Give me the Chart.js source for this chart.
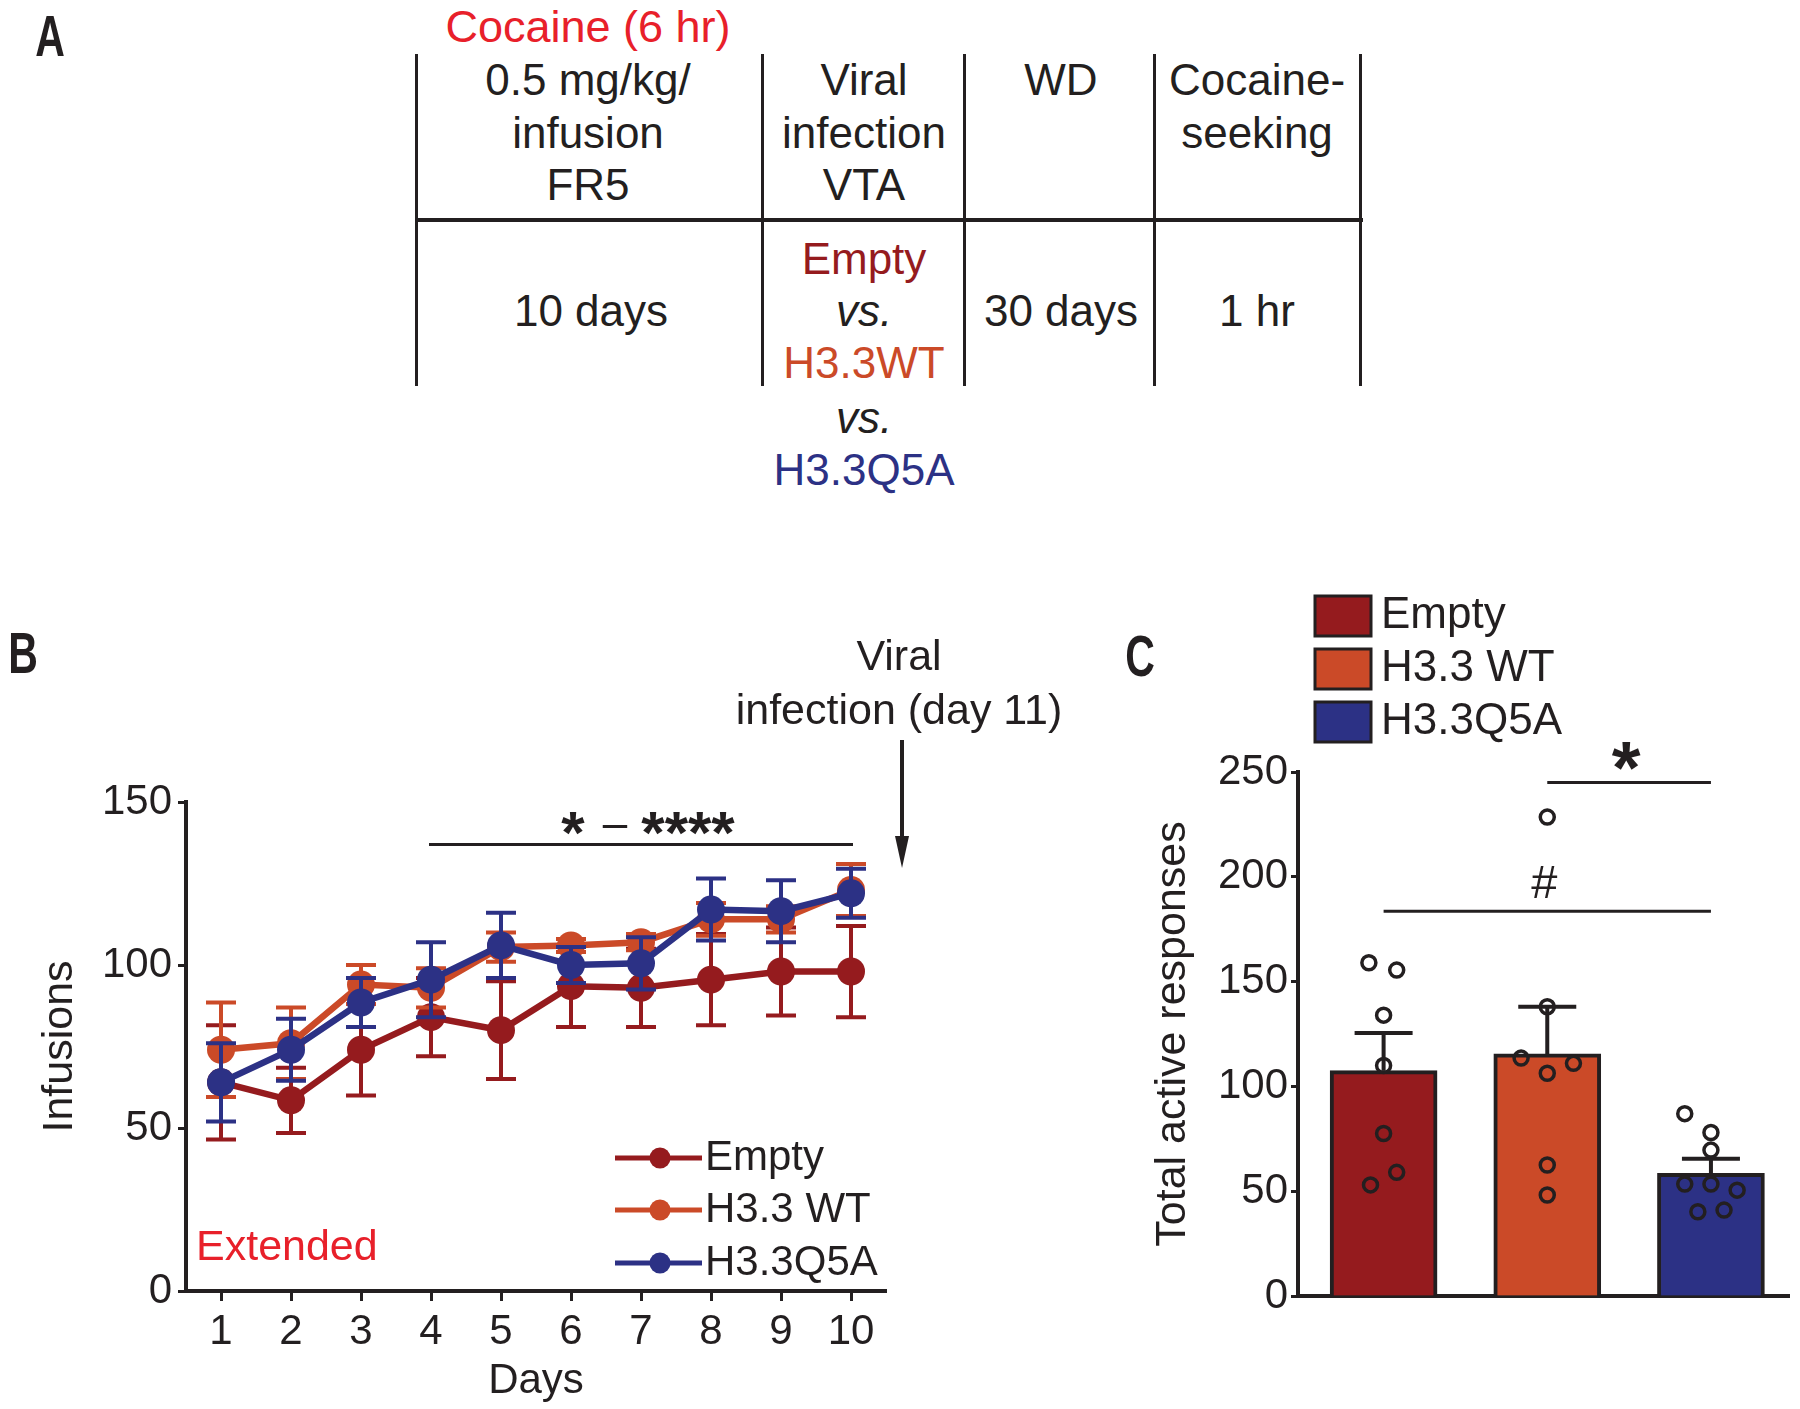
<!DOCTYPE html>
<html>
<head>
<meta charset="utf-8">
<title>H3.3 cocaine self-administration</title>
<script src="https://cdn.jsdelivr.net/npm/chart.js@4.4.1/dist/chart.umd.min.js"></script>
<style>
  body { margin: 0; width: 1800px; height: 1409px; position: relative; overflow: hidden; background: #fff;
         font-family: "Liberation Sans", Arial, sans-serif; color: #231f20; }
  .txt { position: absolute; font-size: 44px; line-height: 1; white-space: nowrap; transform: translate(-50%, -50%); }
  .panel { position: absolute; font-weight: bold; font-size: 57px; line-height: 1; transform: translate(-50%, -50%) scaleX(0.72); }
  .vline { position: absolute; top: 54px; height: 332px; width: 3px; background: #231f20; }
  .hline { position: absolute; left: 416px; width: 947px; top: 218px; height: 4px; background: #231f20; }
  canvas { position: absolute; }
  #chartB { left: 0; top: 600px; }
  #chartC { left: 1150px; top: 560px; }
</style>
</head>
<body>
<!-- panel A: the protocol table -->
<div class="panel" style="left:50px;top:36px">A</div>
<div class="txt" style="left:588px;top:26px;font-size:45px;color:#e8202a">Cocaine (6 hr)</div>
<div class="vline" style="left:415px"></div>
<div class="vline" style="left:761px"></div>
<div class="vline" style="left:963px"></div>
<div class="vline" style="left:1153px"></div>
<div class="vline" style="left:1359px"></div>
<div class="hline"></div>

<div class="txt" style="left:588px;top:80px">0.5 mg/kg/</div>
<div class="txt" style="left:588px;top:133px">infusion</div>
<div class="txt" style="left:588px;top:185px">FR5</div>
<div class="txt" style="left:591px;top:311px">10 days</div>

<div class="txt" style="left:864px;top:80px">Viral</div>
<div class="txt" style="left:864px;top:133px">infection</div>
<div class="txt" style="left:864px;top:185px">VTA</div>
<div class="txt" style="left:864px;top:259px;color:#951b1e">Empty</div>
<div class="txt" style="left:864px;top:311px;font-style:italic">vs.</div>
<div class="txt" style="left:864px;top:363px;color:#cb4a28">H3.3WT</div>
<div class="txt" style="left:864px;top:418px;font-style:italic">vs.</div>
<div class="txt" style="left:864px;top:470px;color:#2c3185">H3.3Q5A</div>

<div class="txt" style="left:1061px;top:80px">WD</div>
<div class="txt" style="left:1061px;top:311px">30 days</div>

<div class="txt" style="left:1257px;top:80px">Cocaine-</div>
<div class="txt" style="left:1257px;top:133px">seeking</div>
<div class="txt" style="left:1257px;top:311px">1 hr</div>

<div class="panel" style="left:23px;top:653px">B</div>
<div class="panel" style="left:1140px;top:656px">C</div>

<canvas id="chartB" width="1100" height="809"></canvas>
<canvas id="chartC" width="650" height="790"></canvas>

<script>
const INK = '#231f20'
const EMPTY_COL = '#951b1e'
const WT_COL = '#cb4a28'
const Q5A_COL = '#2c3185'
const RED_TXT = '#e8202a'
const FONT = '"Liberation Sans", Arial, sans-serif'

// panel B - infusions per day (mean, +/- error)
const days = ['1', '2', '3', '4', '5', '6', '7', '8', '9', '10']
const emptyInf = [64, 58.5, 74, 84, 80, 93.5, 93, 95.5, 98, 98]
const emptyInfErr = [17.5, 10, 14, 12, 15, 12.5, 12, 14, 13.5, 14]
const wtInf = [74, 76, 94, 93, 105.5, 106, 107, 114, 114, 123]
const wtInfErr = [14.5, 11, 6, 6, 4.5, 2, 2.5, 5, 4, 8]
const q5aInf = [64, 74, 88.5, 95.5, 106, 100, 100.5, 117, 116.5, 122]
const q5aInfErr = [12, 9.5, 7.5, 11.5, 10, 5.5, 8, 9.5, 9.5, 7.5]

// panel C - total active responses
const groups = ['Empty', 'H3.3 WT', 'H3.3Q5A']
const groupCols = [EMPTY_COL, WT_COL, Q5A_COL]
const totalMean = [107.5, 115.5, 58.5]
const totalSem = [18, 22.5, 7]
const emptyResp = [159, 155.5, 134, 110, 77.5, 59, 53]
const emptyJitter = [-0.09, 0.08, 0, 0, 0, 0.08, -0.08]
const wtResp = [228.5, 138, 113.5, 111, 106.3, 62.5, 48.2]
const wtJitter = [0, 0, -0.16, 0.16, 0, 0, 0]
const q5aResp = [87, 78, 69.6, 53.4, 53.4, 50.5, 40.2, 41]
const q5aJitter = [-0.16, 0, 0, -0.16, 0, 0.16, -0.08, 0.08]

function font(size, weight) {
  return (weight || '') + ' ' + size + 'px ' + FONT
}

// error bars (both ways) drawn under each line series
const errBarsB = {
  id: 'errBarsB',
  beforeDatasetDraw(chart, args) {
    let ds = chart.data.datasets[args.index]
    let y = chart.scales.y
    let ctx = chart.ctx
    ctx.save()
    ctx.strokeStyle = ds.borderColor
    ctx.lineWidth = 4
    args.meta.data.forEach((pt, i) => {
      let hi = y.getPixelForValue(ds.data[i] + ds.errors[i])
      let lo = y.getPixelForValue(ds.data[i] - ds.errors[i])
      ctx.beginPath()
      ctx.moveTo(pt.x, hi); ctx.lineTo(pt.x, lo)
      ctx.moveTo(pt.x - 15, hi); ctx.lineTo(pt.x + 15, hi)
      ctx.moveTo(pt.x - 15, lo); ctx.lineTo(pt.x + 15, lo)
      ctx.stroke()
    })
    ctx.restore()
  }
}

const annotB = {
  id: 'annotB',
  afterDraw(chart) {
    let ctx = chart.ctx
    let x = chart.scales.x, y = chart.scales.y
    ctx.save()
    ctx.fillStyle = INK
    ctx.strokeStyle = INK

    // significance bar, days 4 - 10
    let sy = y.getPixelForValue(137)
    let x4 = x.getPixelForValue(3), x10 = x.getPixelForValue(9)
    ctx.lineWidth = 3
    ctx.beginPath(); ctx.moveTo(x4 - 2, sy); ctx.lineTo(x10 + 2, sy); ctx.stroke()
    let mid = (x4 + x10) / 2
    ctx.textAlign = 'center'
    ctx.textBaseline = 'alphabetic'
    ctx.font = font(60, 'bold')
    ctx.fillText('*', mid - 68, sy - 24 + 33)
    ctx.fillText('****', mid + 47, sy - 24 + 33)
    ctx.font = font(44)
    ctx.fillText('–', mid - 26, sy - 18 + 12)

    // viral infection arrow
    ctx.textBaseline = 'middle'
    ctx.font = font(43)
    ctx.fillText('Viral', 899, 58)
    ctx.fillText('infection (day 11)', 899, 112)
    ctx.lineWidth = 4
    ctx.beginPath(); ctx.moveTo(902, 140); ctx.lineTo(902, 240); ctx.stroke()
    ctx.beginPath(); ctx.moveTo(895, 236); ctx.lineTo(909, 236); ctx.lineTo(902, 268); ctx.closePath(); ctx.fill()

    // legend
    let rows = [558, 610, 663]
    chart.data.datasets.forEach((ds, i) => {
      ctx.strokeStyle = ds.borderColor
      ctx.fillStyle = ds.borderColor
      ctx.lineWidth = 5
      ctx.beginPath(); ctx.moveTo(615, rows[i]); ctx.lineTo(702, rows[i]); ctx.stroke()
      ctx.beginPath(); ctx.arc(660, rows[i], 10.5, 0, Math.PI * 2); ctx.fill()
      ctx.fillStyle = INK
      ctx.textAlign = 'left'
      ctx.font = font(42)
      ctx.fillText(ds.label, 705, rows[i])
    })

    ctx.fillStyle = RED_TXT
    ctx.font = font(43)
    ctx.textAlign = 'left'
    ctx.fillText('Extended', 196, 648)
    ctx.restore()
  }
}

function lineSet(label, data, errors, col, order) {
  return {
    label: label, data: data, errors: errors, order: order,
    borderColor: col, backgroundColor: col, pointBackgroundColor: col,
    borderWidth: 6.5, pointRadius: 14, pointHoverRadius: 14, pointBorderWidth: 0, tension: 0
  }
}

new Chart(document.getElementById('chartB'), {
  type: 'line',
  data: {
    labels: days,
    datasets: [
      lineSet('Empty', emptyInf, emptyInfErr, EMPTY_COL, 3),
      lineSet('H3.3 WT', wtInf, wtInfErr, WT_COL, 2),
      lineSet('H3.3Q5A', q5aInf, q5aInfErr, Q5A_COL, 1)
    ]
  },
  options: {
    responsive: false,
    animation: false,
    devicePixelRatio: 1,
    layout: { padding: { left: 0, right: 214, top: 202, bottom: 0 } },
    plugins: { legend: { display: false }, tooltip: { enabled: false } },
    scales: {
      x: {
        type: 'category', offset: true,
        grid: { display: true, drawOnChartArea: false, tickLength: 10, tickWidth: 3, tickColor: INK },
        border: { color: INK, width: 4 },
        ticks: { color: INK, font: { size: 42, family: FONT }, padding: 6, maxRotation: 0, autoSkip: false },
        title: { display: true, text: 'Days', color: INK, font: { size: 42, family: FONT, lineHeight: 1 }, padding: { top: 0, bottom: 7 } },
        afterFit: s => { s.height = 118 }
      },
      y: {
        min: 0, max: 150,
        grid: { display: true, drawOnChartArea: false, tickLength: 8, tickWidth: 3, tickColor: INK },
        border: { color: INK, width: 4 },
        ticks: { stepSize: 50, color: INK, font: { size: 42, family: FONT }, padding: 6 },
        title: { display: true, text: 'Infusions', color: INK, font: { size: 43, family: FONT, lineHeight: 1 }, padding: { top: 39, bottom: 0 } },
        afterFit: s => { s.width = 186 }
      }
    }
  },
  plugins: [errBarsB, annotB]
})

// mean + SEM (upper half only), stats bars and legend for panel C
const errBarsC = {
  id: 'errBarsC',
  afterDatasetDraw(chart, args) {
    if (args.index !== 0) return
    let y = chart.scales.y
    let ctx = chart.ctx
    ctx.save()
    ctx.strokeStyle = INK
    ctx.lineWidth = 4
    args.meta.data.forEach((bar, i) => {
      let top = y.getPixelForValue(totalMean[i])
      let hi = y.getPixelForValue(totalMean[i] + totalSem[i])
      ctx.beginPath()
      ctx.moveTo(bar.x, top); ctx.lineTo(bar.x, hi)
      ctx.moveTo(bar.x - 29, hi); ctx.lineTo(bar.x + 29, hi)
      ctx.stroke()
    })
    ctx.restore()
  }
}

const annotC = {
  id: 'annotC',
  afterDraw(chart) {
    let ctx = chart.ctx
    let x = chart.scales.x, y = chart.scales.y
    ctx.save()
    ctx.strokeStyle = INK
    ctx.fillStyle = INK
    ctx.lineWidth = 3
    ctx.textAlign = 'center'

    // # : Empty vs Q5A
    let hy = y.getPixelForValue(183.6)
    ctx.beginPath(); ctx.moveTo(x.getPixelForValue(0), hy); ctx.lineTo(x.getPixelForValue(2), hy); ctx.stroke()
    ctx.textBaseline = 'middle'
    ctx.font = font(47)
    ctx.fillText('#', x.getPixelForValue(1) - 3, hy - 26)

    // * : WT vs Q5A
    let sy = y.getPixelForValue(245)
    ctx.beginPath(); ctx.moveTo(x.getPixelForValue(1), sy); ctx.lineTo(x.getPixelForValue(2), sy); ctx.stroke()
    ctx.textBaseline = 'alphabetic'
    ctx.font = font(74, 'bold')
    ctx.fillText('*', (x.getPixelForValue(1) + x.getPixelForValue(2)) / 2 - 3, sy - 29 + 40)

    // legend boxes
    let rows = [56, 109, 162]
    groups.forEach((g, i) => {
      ctx.fillStyle = groupCols[i]
      ctx.fillRect(165, rows[i] - 20, 56, 40)
      ctx.lineWidth = 3
      ctx.strokeStyle = INK
      ctx.strokeRect(165, rows[i] - 20, 56, 40)
      ctx.fillStyle = INK
      ctx.textAlign = 'left'
      ctx.textBaseline = 'middle'
      ctx.font = font(44)
      ctx.fillText(g, 231, rows[i])
    })
    ctx.restore()
  }
}

let dots = []
;[[emptyResp, emptyJitter], [wtResp, wtJitter], [q5aResp, q5aJitter]].forEach((pair, g) => {
  pair[0].forEach((v, k) => dots.push({ x: g + pair[1][k], y: v }))
})

new Chart(document.getElementById('chartC'), {
  type: 'bar',
  data: {
    datasets: [
      {
        type: 'bar', label: 'mean', order: 2,
        data: totalMean.map((v, i) => ({ x: i, y: v })),
        backgroundColor: groupCols, borderColor: INK, borderWidth: 4, barThickness: 107
      },
      {
        type: 'scatter', label: 'animals', order: 1, data: dots,
        pointRadius: 7, pointHoverRadius: 7, pointBorderWidth: 3.5,
        pointBorderColor: INK, pointBackgroundColor: 'rgba(0,0,0,0)'
      }
    ]
  },
  options: {
    responsive: false,
    animation: false,
    devicePixelRatio: 1,
    layout: { padding: { left: 0, right: 8, top: 212, bottom: 0 } },
    plugins: { legend: { display: false }, tooltip: { enabled: false } },
    scales: {
      x: {
        type: 'linear', min: -0.523, max: 2.48, offset: false,
        grid: { display: false },
        border: { color: INK, width: 4 },
        ticks: { display: false },
        afterFit: s => { s.height = 54 }
      },
      y: {
        min: 0, max: 250,
        grid: { display: true, drawOnChartArea: false, tickLength: 7, tickWidth: 3, tickColor: INK },
        border: { color: INK, width: 4 },
        ticks: { stepSize: 50, color: INK, font: { size: 42, family: FONT }, padding: 3 },
        title: { display: true, text: 'Total active responses', color: INK, font: { size: 43, family: FONT, lineHeight: 1 }, padding: { top: 2, bottom: 0 } },
        afterFit: s => { s.width = 148 }
      }
    }
  },
  plugins: [errBarsC, annotC]
})
</script>
</body>
</html>
